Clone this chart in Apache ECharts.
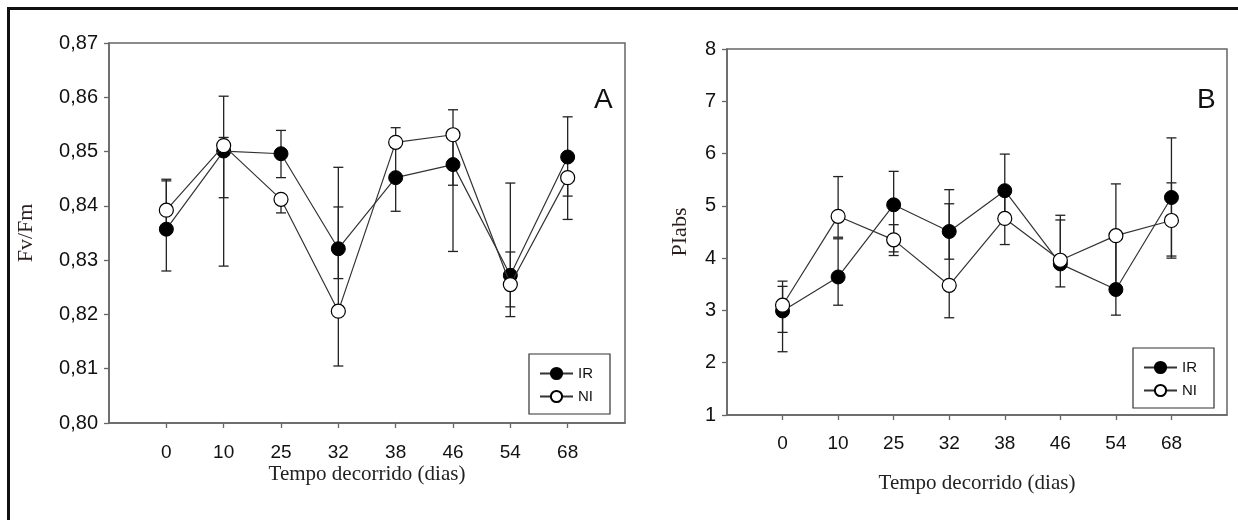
<!DOCTYPE html>
<html>
<head>
<meta charset="utf-8">
<script src="https://cdn.jsdelivr.net/npm/echarts@6/dist/echarts.min.js"></script>
<style>
html,body{margin:0;padding:0;background:#fff;}
#chart{width:1238px;height:520px;}
</style>
</head>
<body>
<div id="chart"></div>
<script>
// ---- data ----
var categories = ['0','10','25','32','38','46','54','68'];

// Panel A: Fv/Fm
var fvfmIR     = [0.8357, 0.8501, 0.8496, 0.8321, 0.8452, 0.8476, 0.8272, 0.8490];
var fvfmNI     = [0.8392, 0.8511, 0.8412, 0.8206, 0.8517, 0.8531, 0.8255, 0.8452];
var fvfmIRLow  = [0.8280, 0.8289, 0.8452, 0.8266, 0.8390, 0.8316, 0.8196, 0.8418];
var fvfmIRHigh = [0.8449, 0.8602, 0.8539, 0.8398, 0.8512, 0.8577, 0.8442, 0.8564];
var fvfmNILow  = [0.8350, 0.8415, 0.8387, 0.8105, 0.8510, 0.8438, 0.8214, 0.8375];
var fvfmNIHigh = [0.8446, 0.8526, 0.8420, 0.8471, 0.8544, 0.8540, 0.8315, 0.8460];

// Panel B: PIabs
var piIR     = [2.99, 3.64, 5.02, 4.51, 5.29, 3.89, 3.40, 5.16];
var piNI     = [3.10, 4.80, 4.35, 3.48, 4.76, 3.96, 4.43, 4.72];
var piIRLow  = [2.21, 3.10, 4.05, 3.98, 4.76, 3.45, 2.91, 4.04];
var piIRHigh = [3.46, 4.37, 5.66, 5.04, 5.99, 4.73, 4.43, 6.30];
var piNILow  = [2.58, 4.40, 4.12, 2.86, 4.26, 3.93, 3.40, 4.00];
var piNIHigh = [3.56, 5.56, 4.64, 5.31, 5.29, 4.82, 5.42, 5.44];

var yTicksA = { min: 0.80, max: 0.87, interval: 0.01 };
var yTicksB = { min: 1, max: 8, interval: 1 };

var seriesNames = ['IR', 'NI'];
var panelLabels = ['A', 'B'];
var yNames = ['Fv/Fm', 'PIabs'];
var xName = 'Tempo decorrido (dias)';

// ---- build ----
var axisCats = [''].concat(categories).concat(['']);
function pts(arr){ return arr.map(function(v,i){ return [i+1, v]; }); }
function errs(lo, hi){ return lo.map(function(v,i){ return [i+1, v, hi[i]]; }); }

var AX = '#666';
var sans = 'Liberation Sans, Arial, sans-serif';
var serif = 'Liberation Serif, Times New Roman, serif';

function errRender(params, api){
  var x = api.value(0);
  var p1 = api.coord([x, api.value(1)]);
  var p2 = api.coord([x, api.value(2)]);
  var hw = 5;
  var st = { stroke: '#222', lineWidth: 1.3 };
  return { type: 'group', children: [
    { type: 'line', shape: { x1: p1[0], y1: p1[1], x2: p2[0], y2: p2[1] }, style: st },
    { type: 'line', shape: { x1: p1[0]-hw, y1: p1[1], x2: p1[0]+hw, y2: p1[1] }, style: st },
    { type: 'line', shape: { x1: p2[0]-hw, y1: p2[1], x2: p2[0]+hw, y2: p2[1] }, style: st }
  ]};
}

function xAxisCfg(gi, labelMargin, nameGap){
  return {
    gridIndex: gi, type: 'category', data: axisCats, boundaryGap: false,
    axisLine: { lineStyle: { color: AX, width: 1.5 } },
    axisTick: { show: true, length: 5, lineStyle: { color: AX, width: 1.3 },
      interval: function(i){ return i > 0 && i < axisCats.length - 1; } },
    axisLabel: { interval: 0, color: '#111', fontFamily: sans, fontSize: 19, margin: labelMargin },
    splitLine: { show: false },
    name: xName, nameLocation: 'middle', nameGap: nameGap, nameMoveOverlap: false,
    nameTextStyle: { fontFamily: serif, fontSize: 21, color: '#222' }
  };
}

function yAxisCfg(gi, t, name, nameGap, fmt){
  return {
    gridIndex: gi, type: 'value', min: t.min, max: t.max, interval: t.interval,
    axisLine: { show: true, lineStyle: { color: AX, width: 1.5 } },
    axisTick: { show: true, length: 5, lineStyle: { color: AX, width: 1.3 } },
    axisLabel: { color: '#111', fontFamily: sans, fontSize: 20, margin: 11, formatter: fmt },
    splitLine: { show: false },
    name: name, nameLocation: 'middle', nameGap: nameGap, nameRotate: 90, nameMoveOverlap: false,
    nameTextStyle: { fontFamily: serif, fontSize: 22, color: '#2a1f1f' }
  };
}

function lineSeries(name, gi, data, filled){
  return {
    name: name, type: 'line', xAxisIndex: gi, yAxisIndex: gi, data: pts(data),
    symbol: 'circle', symbolSize: 14, z: filled ? 3 : 4,
    lineStyle: { color: '#333', width: 1.2 },
    itemStyle: filled ? { color: '#000', borderColor: '#000', borderWidth: 1 }
                      : { color: '#fff', borderColor: '#000', borderWidth: 1.2 },
    emphasis: { disabled: true }, animation: false
  };
}
function errSeries(gi, lo, hi){
  return { type: 'custom', xAxisIndex: gi, yAxisIndex: gi, data: errs(lo, hi),
    renderItem: errRender, encode: { x: 0, y: [1, 2] }, z: 2, silent: true, animation: false };
}

function legendCfg(left, top){
  return {
    data: seriesNames, orient: 'vertical', left: left, top: top,
    borderColor: '#333', borderWidth: 1.2, padding: [12, 17, 10, 10],
    itemWidth: 33, itemHeight: 14, itemGap: 8, selectedMode: false,
    textStyle: { fontFamily: sans, fontSize: 15, color: '#111', padding: [0,0,0,0] }
  };
}

var fmtA = function(v){ return v.toFixed(2).replace('.', ','); };
var fmtB = function(v){ return String(Math.round(v)); };

var option = {
  animation: false,
  backgroundColor: '#fff',
  grid: [
    { left: 109, top: 43, width: 516, height: 380, show: true, borderColor: AX, borderWidth: 1.5, backgroundColor: 'transparent' },
    { left: 727, top: 49, width: 500, height: 366, show: true, borderColor: AX, borderWidth: 1.5, backgroundColor: 'transparent' }
  ],
  xAxis: [ xAxisCfg(0, 20, 41), xAxisCfg(1, 19, 58) ],
  yAxis: [ yAxisCfg(0, yTicksA, yNames[0], 72, fmtA), yAxisCfg(1, yTicksB, yNames[1], 36, fmtB) ],
  legend: [ legendCfg(529, 354), legendCfg(1133, 348) ],
  series: [
    errSeries(0, fvfmIRLow, fvfmIRHigh),
    errSeries(0, fvfmNILow, fvfmNIHigh),
    lineSeries(seriesNames[0], 0, fvfmIR, true),
    lineSeries(seriesNames[1], 0, fvfmNI, false),
    errSeries(1, piIRLow, piIRHigh),
    errSeries(1, piNILow, piNIHigh),
    lineSeries(seriesNames[0], 1, piIR, true),
    lineSeries(seriesNames[1], 1, piNI, false)
  ],
  graphic: [
    { type: 'rect', left: 6, top: 6, shape: { width: 1260, height: 540 }, silent: true,
      style: { fill: 'none', stroke: '#111', lineWidth: 3 }, z: 0 },
    { type: 'text', left: 594, top: 86, style: { text: panelLabels[0], font: '28px ' + sans, fill: '#111' } },
    { type: 'text', left: 1197, top: 86, style: { text: panelLabels[1], font: '28px ' + sans, fill: '#111' } }
  ]
};

var chart = echarts.init(document.getElementById('chart'), null, { renderer: 'canvas' });
chart.setOption(option);
</script>
</body>
</html>
